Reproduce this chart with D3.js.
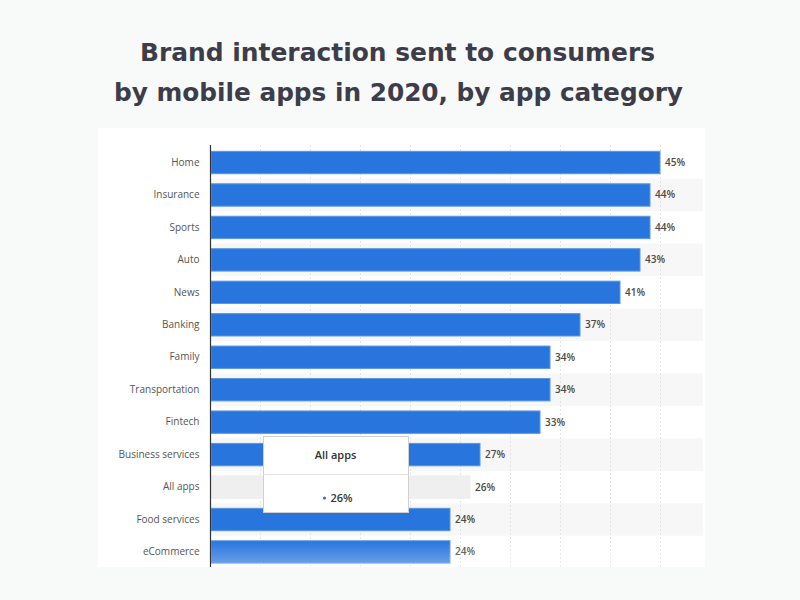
<!DOCTYPE html>
<html><head><meta charset="utf-8">
<script src="https://cdn.jsdelivr.net/npm/d3@7"></script>
<style>
html,body{margin:0;padding:0;background:#f8fafa;}
svg{display:block;}
</style></head>
<body>
<svg id="chart" width="800" height="600"></svg>
<script>
const categories = ["Home","Insurance","Sports","Auto","News","Banking","Family","Transportation","Fintech","Business services","All apps","Food services","eCommerce"];
const values = [45,44,44,43,41,37,34,34,33,27,26,24,24];
const xTicks = [0,5,10,15,20,25,30,35,40,45];
const titleLines = ["Brand interaction sent to consumers","by mobile apps in 2020, by app category"];
const highlighted = "All apps";

const svg = d3.select("#chart");

// title
const titleWidths = [515, 569];
svg.append("g").selectAll("text").data(titleLines).join("text")
  .attr("x", (d,i)=>i===0?397.5:398.5).attr("y", (d,i)=>61 + i*39.5)
  .attr("text-anchor","middle")
  .attr("font-family","'DejaVu Sans', Inter, sans-serif")
  .attr("font-weight",700).attr("font-size",24)
  .attr("textLength",(d,i)=>titleWidths[i]).attr("lengthAdjust","spacingAndGlyphs")
  .attr("fill","#3d3d4a")
  .text(d=>d);

// panel
const panel = {x0:98, y0:128, x1:705, y1:567};
svg.append("rect").attr("x",panel.x0).attr("y",panel.y0)
  .attr("width",panel.x1-panel.x0).attr("height",panel.y1-panel.y0).attr("fill","#ffffff");

const x = d3.scaleLinear().domain([0,49.5]).range([210,705]);
const y = d3.scaleBand().domain(categories).range([146.3,568.2]).paddingInner(0.31).paddingOuter(0.155);
const step = y.step();

const clip = svg.append("defs").append("clipPath").attr("id","plotclip");
clip.append("rect").attr("x",panel.x0).attr("y",panel.y0).attr("width",panel.x1-panel.x0).attr("height",panel.y1-panel.y0);
const plot = svg.append("g").attr("clip-path","url(#plotclip)");

// stripes
plot.append("g").selectAll("rect").data(categories.filter((d,i)=>i%2===1)).join("rect")
  .attr("x",x(0)).attr("width",703-x(0))
  .attr("y",d=>y(d)+y.bandwidth()/2-step/2).attr("height",step)
  .attr("fill","#f7f7f7");

// grid
plot.append("g").selectAll("line").data(xTicks.slice(1)).join("line")
  .attr("x1",d=>x(d)+0.5).attr("x2",d=>x(d)+0.5)
  .attr("y1",145).attr("y2",567)
  .attr("stroke","#e4e4e4").attr("stroke-dasharray","2,2").attr("stroke-width",1);

// bars
plot.append("g").selectAll("rect").data(categories).join("rect")
  .attr("x",x(0)+1)
  .attr("y",d=>y(d))
  .attr("width",(d,i)=>x(values[i])-x(0)-1)
  .attr("height",y.bandwidth())
  .attr("fill",d=>d===highlighted?"#efefef":"#2876dd")
  .attr("stroke",d=>d===highlighted?"#efefef":"#5b97e3")
  .attr("stroke-width",1);

// fade at bottom
const defs = svg.append("defs");
const grad = defs.append("linearGradient").attr("id","fade").attr("x1",0).attr("x2",0).attr("y1",0).attr("y2",1);
grad.append("stop").attr("offset","0%").attr("stop-color","#ffffff").attr("stop-opacity",0);
grad.append("stop").attr("offset","100%").attr("stop-color","#ffffff").attr("stop-opacity",0.35);

// value labels
plot.append("g").selectAll("text").data(categories).join("text")
  .attr("x",(d,i)=>x(values[i])+5)
  .attr("y",d=>y(d)+y.bandwidth()/2)
  .attr("dy","0.35em")
  .attr("font-family","'Open Sans', sans-serif").attr("font-size",10).attr("font-weight",600)
  .attr("fill","#4a4a4a")
  .text((d,i)=>values[i]+"%");

// y axis
const yAxis = d3.axisLeft(y).tickSize(0).tickPadding(11);
const gy = svg.append("g").attr("transform",`translate(${x(0)+0.5},0)`).call(yAxis);
gy.select(".domain").attr("stroke","#333").attr("stroke-width",1.2).attr("d","M0,145V567");
gy.selectAll("text").attr("font-family","'Open Sans', sans-serif").attr("font-size",10).attr("fill","#555");

// bottom fade overlay
plot.append("rect").attr("x",x(0)+1).attr("y",541).attr("width",495).attr("height",26).attr("fill","url(#fade)");

// tooltip
const tip = svg.append("g").attr("transform","translate(263.5,436.5)");
tip.append("rect").attr("width",145).attr("height",76).attr("fill","#fff").attr("stroke","#cfcfcf");
tip.append("line").attr("x1",0).attr("x2",145).attr("y1",38).attr("y2",38).attr("stroke","#e2e2e2");
tip.append("text").attr("x",72).attr("y",19).attr("dy","0.35em").attr("text-anchor","middle")
  .attr("font-family","'Open Sans', sans-serif").attr("font-size",11).attr("font-weight",600).attr("fill","#333")
  .text(highlighted);
const hv = values[categories.indexOf(highlighted)];
tip.append("circle").attr("cx",61).attr("cy",61.5).attr("r",1.6).attr("fill","#2876dd");
tip.append("text").attr("x",67).attr("y",62).attr("dy","0.35em")
  .attr("font-family","'Open Sans', sans-serif").attr("font-size",11).attr("font-weight",600).attr("fill","#333")
  .text(hv+"%");
</script>
</body></html>
